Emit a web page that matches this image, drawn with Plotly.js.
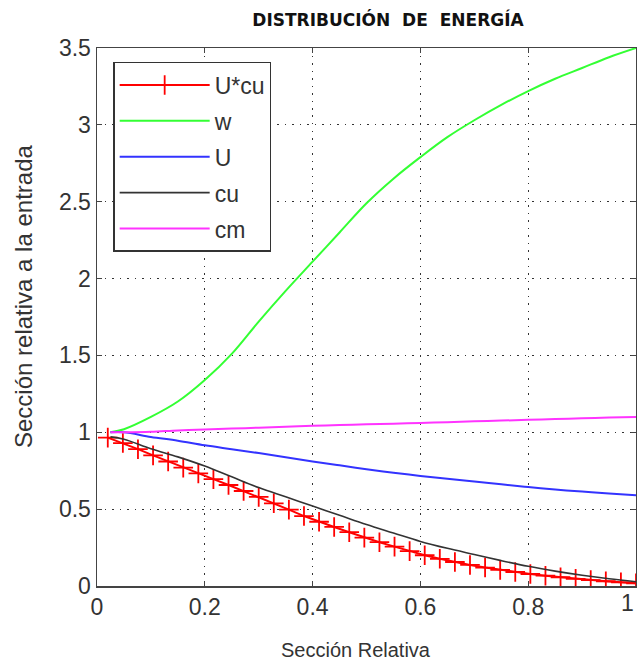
<!DOCTYPE html>
<html>
<head>
<meta charset="utf-8">
<script src="https://cdn.plot.ly/plotly-3.0.1.min.js"></script>
<style>html,body{margin:0;padding:0;background:#fff;overflow:hidden}</style>
</head>
<body>
<div id="chart" style="width:637px;height:661px"></div>
<script>
// Marker series x positions (U*cu)
const xMarks = [0.02, 0.048, 0.076, 0.104, 0.132, 0.16, 0.188, 0.216, 0.244, 0.272,
  0.30, 0.328, 0.356, 0.384, 0.412, 0.44, 0.468, 0.496, 0.524, 0.552,
  0.58, 0.608, 0.636, 0.664, 0.692, 0.72, 0.748, 0.776, 0.804, 0.832,
  0.86, 0.888, 0.916, 0.944, 0.972, 1.0];
const uCu = [0.965, 0.93, 0.89, 0.85, 0.81, 0.77, 0.733, 0.695, 0.657, 0.618,
  0.58, 0.538, 0.497, 0.455, 0.418, 0.384, 0.35, 0.315, 0.285, 0.256,
  0.227, 0.2, 0.177, 0.156, 0.137, 0.12, 0.105, 0.091, 0.078, 0.067,
  0.057, 0.047, 0.038, 0.031, 0.024, 0.018];

// Line series x positions
const xLine = [0.025, 0.05, 0.1, 0.15, 0.2, 0.25, 0.3, 0.35, 0.4, 0.45, 0.5,
  0.55, 0.6, 0.65, 0.7, 0.75, 0.8, 0.85, 0.9, 0.95, 1.0];
const w  = [1.0, 1.02, 1.1, 1.2, 1.34, 1.51, 1.72, 1.92, 2.11, 2.30, 2.49,
  2.65, 2.79, 2.92, 3.03, 3.13, 3.22, 3.30, 3.37, 3.44, 3.50];
const U  = [1.0, 1.0, 0.97, 0.945, 0.915, 0.89, 0.865, 0.838, 0.81, 0.785, 0.76,
  0.737, 0.716, 0.697, 0.68, 0.662, 0.644, 0.628, 0.614, 0.602, 0.59];
const cu = [0.97, 0.955, 0.893, 0.84, 0.78, 0.71, 0.64, 0.58, 0.52, 0.46, 0.40,
  0.345, 0.29, 0.245, 0.205, 0.165, 0.128, 0.097, 0.07, 0.047, 0.028];
const cm = [1.0, 1.0, 1.003, 1.012, 1.018, 1.024, 1.03, 1.036, 1.042, 1.047, 1.052,
  1.056, 1.061, 1.066, 1.071, 1.076, 1.081, 1.086, 1.091, 1.096, 1.10];

const xTicks = [0, 0.2, 0.4, 0.6, 0.8, 1];
const xTickText = ['0', '0.2', '0.4', '0.6', '0.8', '1'];
const yTicks = [0, 0.5, 1, 1.5, 2, 2.5, 3, 3.5];
const yTickText = ['0', '0.5', '1', '1.5', '2', '2.5', '3', '3.5'];

const FAM = 'Liberation Sans, Arial, sans-serif';

const traces = [
  {x: xMarks, y: uCu, name: 'U*cu', mode: 'lines+markers', legendgroup: 'a',
   line: {color: '#ff0000', width: 2},
   marker: {symbol: 'cross-thin-open', size: 14, color: '#ff0000', line: {color: '#ff0000', width: 1.8}}},
  {x: xLine, y: w, name: 'w', mode: 'lines', legendgroup: 'b', line: {color: '#33ff33', width: 2, shape: 'spline'}},
  {x: xLine, y: U, name: 'U', mode: 'lines', legendgroup: 'c', line: {color: '#3333ff', width: 2, shape: 'spline'}},
  {x: xLine, y: cu, name: 'cu', mode: 'lines', legendgroup: 'd', line: {color: '#333333', width: 1.6, shape: 'spline'}},
  {x: xLine, y: cm, name: 'cm', mode: 'lines', legendgroup: 'e', line: {color: '#ff33ff', width: 2, shape: 'spline'}}
];

const axisFont = {family: FAM, size: 23, color: '#333333'};

// the last x tick label is placed as an annotation, right-aligned on the plot edge
const lastIdx = xTicks.length - 1;
const xTickTextShown = xTickText.map((t, i) => (i === lastIdx ? '' : t));

const layout = {
  width: 637, height: 661,
  margin: {l: 97, r: 1, t: 48, b: 75, pad: 0},
  paper_bgcolor: '#ffffff', plot_bgcolor: '#ffffff',
  title: {
    text: 'DISTRIBUCIÓN&nbsp; DE&nbsp; ENERGÍA',
    font: {family: 'DejaVu Sans, sans-serif', size: 17, color: '#111111', weight: 'bold'},
    x: 388 / 637, xref: 'container', xanchor: 'center', y: 1 - 20 / 661, yref: 'container', yanchor: 'middle'
  },
  showlegend: true,
  legend: {
    x: 0.03, y: 0.974, xanchor: 'left', yanchor: 'top',
    bgcolor: '#ffffff', bordercolor: '#333333', borderwidth: 1.5,
    font: {family: FAM, size: 23, color: '#333333'},
    itemwidth: 90, traceorder: 'grouped', tracegroupgap: 3
  },
  xaxis: {
    range: [0, 1], tickvals: xTicks, ticktext: xTickTextShown,
    showline: true, linecolor: '#444444', linewidth: 1.5, mirror: 'ticks',
    ticks: 'inside', ticklen: 5, tickcolor: '#444444', tickwidth: 1,
    showgrid: true, gridcolor: '#333333', griddash: '1.5px,6px', gridwidth: 1.2,
    zeroline: false, tickfont: axisFont
  },
  yaxis: {
    range: [0, 3.5], tickvals: yTicks, ticktext: yTickText,
    showline: true, linecolor: '#444444', linewidth: 1.5, mirror: 'ticks',
    ticks: 'inside', ticklen: 5, tickcolor: '#444444', tickwidth: 1,
    showgrid: true, gridcolor: '#333333', griddash: '1.5px,6px', gridwidth: 1.2,
    zeroline: false, tickfont: axisFont, ticklabeloverflow: 'allow'
  },
  annotations: [
    {text: xTickText[lastIdx], xref: 'x', yref: 'paper', x: xTicks[lastIdx], y: 0,
     xanchor: 'right', yanchor: 'top', yshift: -2, showarrow: false, font: axisFont},
    {text: 'Sección Relativa', xref: 'paper', yref: 'paper',
     x: (356 - 97) / 539, y: -(650 - 586) / 538, xanchor: 'center', yanchor: 'middle',
     showarrow: false, font: {family: FAM, size: 20, color: '#333333'}},
    {text: 'Sección relativa a la entrada', xref: 'paper', yref: 'paper',
     x: -(97 - 23) / 539, y: (586 - 296) / 538, xanchor: 'center', yanchor: 'middle',
     textangle: -90, showarrow: false, font: {family: FAM, size: 24, color: '#333333'}}
  ]
};

Plotly.newPlot('chart', traces, layout, {displayModeBar: false, staticPlot: true});
</script>
</body>
</html>
